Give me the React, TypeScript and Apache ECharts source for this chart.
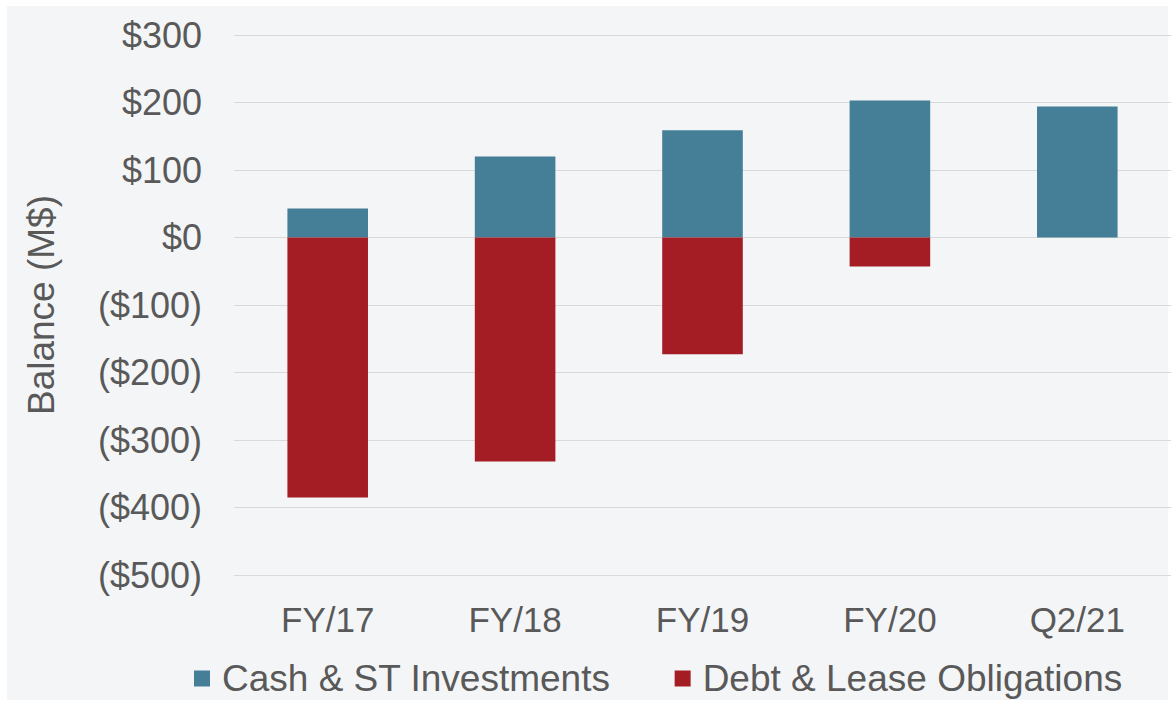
import React, { useEffect, useRef } from "react";
import * as echarts from "echarts";

const categories = ["FY/17", "FY/18", "FY/19", "FY/20", "Q2/21"];
const cashValues = [43, 120, 159, 203, 194];
const debtValues = [-385, -332, -173, -43, 0];
const seriesNames = ["Cash & ST Investments", "Debt & Lease Obligations"];

const TEXT = "#595959";
const FONT = "Liberation Sans, Arial, sans-serif";

export default function App() {
  const ref = useRef<HTMLDivElement>(null);
  useEffect(() => {
    if (!ref.current) return;
    const chart = echarts.init(ref.current, undefined, { renderer: "svg" });
    chart.setOption({
      animation: false,
      textStyle: { fontFamily: FONT },
      grid: { left: 234, right: 2, top: 35, bottom: 131 },
      legend: {
        left: 189,
        top: 655,
        icon: "rect",
        itemWidth: 16,
        itemHeight: 16,
        itemGap: 64,
        data: seriesNames,
        textStyle: { fontSize: 37, color: TEXT, fontFamily: FONT, lineHeight: 37, padding: [0, 0, 0, 7] },
      },
      xAxis: {
        type: "category",
        data: categories,
        axisLine: { show: false },
        axisTick: { show: false },
        axisLabel: { fontSize: 35, color: TEXT, margin: 27, lineHeight: 35, fontFamily: FONT },
      },
      yAxis: {
        type: "value",
        min: -500,
        max: 300,
        interval: 100,
        name: "Balance (M$)",
        nameLocation: "middle",
        nameGap: 174,
        nameTextStyle: { fontSize: 37, color: TEXT, fontFamily: FONT },
        axisLine: { show: false },
        axisTick: { show: false },
        splitLine: { lineStyle: { color: "#d9d9d9", width: 1 } },
        axisLabel: {
          fontSize: 36,
          color: TEXT,
          margin: 32,
          fontFamily: FONT,
          formatter: (v: number) => (v >= 0 ? `$${v}` : `($${-v})`),
        },
      },
      series: [
        {
          name: seriesNames[0],
          type: "bar",
          stack: "bal",
          barWidth: "43%",
          data: cashValues,
          itemStyle: { color: "#447f97" },
        },
        {
          name: seriesNames[1],
          type: "bar",
          stack: "bal",
          barWidth: "43%",
          data: debtValues,
          itemStyle: { color: "#a41d25" },
        },
      ],
    });
    return () => chart.dispose();
  }, []);
  return (
    <div style={{ position: "absolute", left: 0, top: 0, width: 1173, height: 706, background: "#ffffff" }}>
      <div style={{ position: "absolute", left: 7, top: 6, width: 1161, height: 694, background: "#f4f5f7" }} />
      <div ref={ref} style={{ position: "absolute", left: 0, top: 0, width: 1173, height: 706 }} />
    </div>
  );
}
